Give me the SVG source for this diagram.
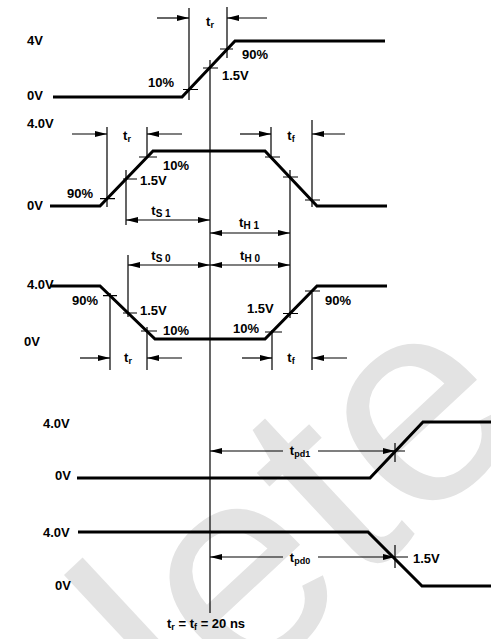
<svg xmlns="http://www.w3.org/2000/svg" width="491" height="639" viewBox="0 0 491 639">
<defs>
<style>
.w{fill:none;stroke:#000;stroke-width:3}
.t{fill:none;stroke:#000;stroke-width:1.2}
.a{fill:none;stroke:#000;stroke-width:1.2;marker-end:url(#ah)}
.d{fill:none;stroke:#000;stroke-width:1.2;marker-start:url(#ah);marker-end:url(#ah)}
text{font-family:"Liberation Sans",Arial,sans-serif;font-weight:bold;font-size:13px;fill:#000}
.s{font-size:9px}
.s2{font-size:10px}
text.wm{font-family:"Liberation Sans",Arial,sans-serif;font-weight:normal;font-size:290px;fill:#e3e3e3}
</style>
<marker id="ah" markerUnits="userSpaceOnUse" markerWidth="12" markerHeight="6" refX="12" refY="3" orient="auto-start-reverse"><path d="M0,0 L12,3 L0,6 z" fill="#000"/></marker>
</defs>
<rect width="491" height="639" fill="#fff"/>
<text class="wm" transform="translate(193,742) rotate(-43)">lete</text>

<g id="connectors">
<path class="t" d="M210,60 V613"/>
</g>

<g id="wave1">
<path class="w" d="M53,97 H182 L235,41 H385"/>
<path class="t" d="M183,89.5 H198 M203,68 H218 M220,49 H233 M189,8 V100 M227,7 V58"/>
<line class="a" x1="157" y1="18" x2="189" y2="18"/>
<line class="a" x1="267" y1="18" x2="227" y2="18"/>
<text x="27" y="45">4V</text>
<text x="27" y="100">0V</text>
<text x="148" y="87">10%</text>
<text x="222" y="80">1.5V</text>
<text x="242" y="59">90%</text>
<text x="210" y="26" text-anchor="middle">t<tspan class="s" dy="2">r</tspan></text>
</g>

<g id="wave2">
<path class="w" d="M50,206 H100 L153,151 H265 L317,206 H387"/>
<path class="t" d="M100,198.7 H115 M123,179 H137 M139,157 H157 M265,157 H280 M283,177 H298 M305,200 H320 M107,127 V207 M147,127 V158 M126,170 V225 M271,127 V157 M290,170 V318 M312,120 V207"/>
<line class="a" x1="72" y1="134" x2="107" y2="134"/>
<line class="a" x1="182" y1="134" x2="147" y2="134"/>
<line class="a" x1="240" y1="134" x2="271" y2="134"/>
<line class="a" x1="345" y1="134" x2="312" y2="134"/>
<line class="d" x1="126" y1="220" x2="210" y2="220"/>
<line class="d" x1="210" y1="233" x2="290" y2="233"/>
<text x="27" y="128">4.0V</text>
<text x="27" y="210">0V</text>
<text x="67" y="198">90%</text>
<text x="140" y="185">1.5V</text>
<text x="163" y="170">10%</text>
<text x="127" y="140" text-anchor="middle">t<tspan class="s" dy="2">r</tspan></text>
<text x="291" y="140" text-anchor="middle">t<tspan class="s" dy="2">f</tspan></text>
<text x="161" y="215" text-anchor="middle">t<tspan class="s2" dy="2">S 1</tspan></text>
<text x="249" y="227" text-anchor="middle">t<tspan class="s2" dy="2">H 1</tspan></text>
</g>

<g id="wave3">
<path class="w" d="M50,286 H100 L155,339 H265 L317,286 H387"/>
<path class="t" d="M103,295.6 H117 M123,313 H137 M141,331 H157 M265,332 H282 M283,313.5 H298 M305,291 H320 M110,293 V370 M128,255 V317 M147,327 V370 M272,330 V370 M312,293 V370"/>
<line class="d" x1="128" y1="265" x2="210" y2="265"/>
<line class="d" x1="210" y1="265" x2="290" y2="265"/>
<line class="a" x1="80" y1="358" x2="110" y2="358"/>
<line class="a" x1="182" y1="358" x2="147" y2="358"/>
<line class="a" x1="242" y1="358" x2="272" y2="358"/>
<line class="a" x1="347" y1="358" x2="312" y2="358"/>
<text x="27" y="289">4.0V</text>
<text x="24" y="346">0V</text>
<text x="72" y="305">90%</text>
<text x="140" y="315">1.5V</text>
<text x="163" y="335">10%</text>
<text x="247" y="313">1.5V</text>
<text x="233" y="333">10%</text>
<text x="325" y="305">90%</text>
<text x="161" y="260" text-anchor="middle">t<tspan class="s2" dy="2">S 0</tspan></text>
<text x="250" y="260" text-anchor="middle">t<tspan class="s2" dy="2">H 0</tspan></text>
<text x="128" y="362" text-anchor="middle">t<tspan class="s" dy="2">r</tspan></text>
<text x="291" y="362" text-anchor="middle">t<tspan class="s" dy="2">f</tspan></text>
</g>

<g id="wave4">
<path class="w" d="M77,478 H370 L423,422 H491"/>
<path class="t" d="M395,443 V462 M388,451 H405"/>
<line class="a" x1="283" y1="451" x2="210" y2="451"/>
<line class="a" x1="318" y1="451" x2="395" y2="451"/>
<text x="43" y="428">4.0V</text>
<text x="55" y="480">0V</text>
<text x="300" y="455" text-anchor="middle">t<tspan class="s" dy="2">pd1</tspan></text>
</g>

<g id="wave5">
<path class="w" d="M78,532 H368 L422,586 H491"/>
<path class="t" d="M395,545 V568 M385,557 H408"/>
<line class="a" x1="283" y1="557" x2="210" y2="557"/>
<line class="a" x1="318" y1="557" x2="395" y2="557"/>
<text x="43" y="537">4.0V</text>
<text x="55" y="590">0V</text>
<text x="413" y="563">1.5V</text>
<text x="300" y="562" text-anchor="middle">t<tspan class="s" dy="2">pd0</tspan></text>
</g>

<g id="note">
<text x="167" y="628">t<tspan class="s" dy="2">r</tspan><tspan dy="-2"> = t</tspan><tspan class="s" dy="2">f</tspan><tspan dy="-2"> = 20 ns</tspan></text>
</g>
</svg>
